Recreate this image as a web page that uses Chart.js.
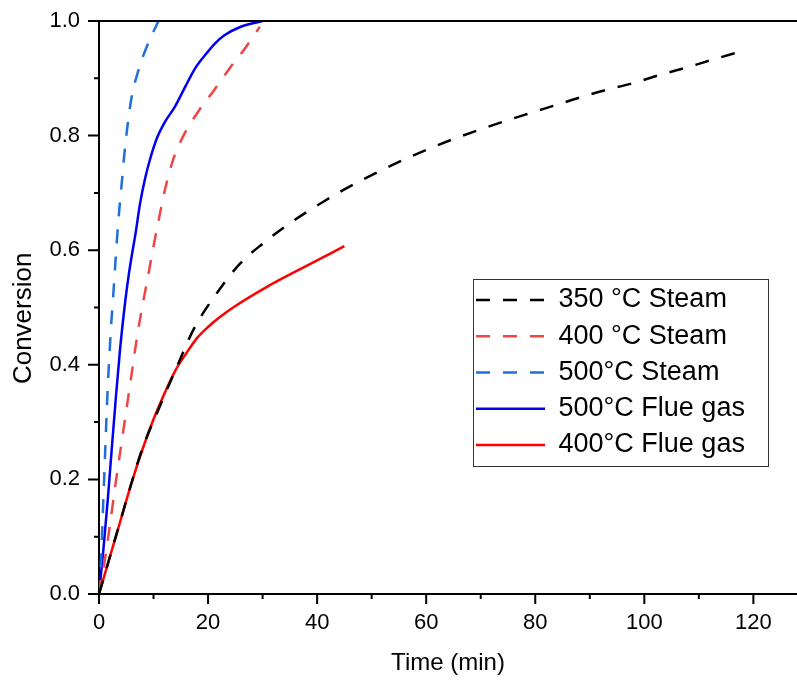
<!DOCTYPE html>
<html><head><meta charset="utf-8">
<script src="https://cdn.jsdelivr.net/npm/chart.js@4"></script>
<style>html,body{margin:0;padding:0;background:#fff;}#wrap{width:797px;height:683px;}</style>
</head><body><div id="wrap"><canvas id="c" width="797" height="683"></canvas></div>
<script>
// ---------- data ----------
const seriesLabels = ["350 °C Steam", "400 °C Steam", "500°C Steam", "500°C Flue gas", "400°C Flue gas"];

const steam350Time = [0, 2, 4, 6, 8, 10.6, 14.3, 17.3, 21.6, 25.9, 30.1, 35, 41.2, 45, 50, 55, 60, 65, 70, 75, 80, 85, 91.9, 97.7, 102.9, 107.8, 112.7, 118];
const steam350Conv = [0, 0.065, 0.13, 0.195, 0.255, 0.315, 0.397, 0.461, 0.525, 0.577, 0.612, 0.647, 0.685, 0.706, 0.731, 0.754, 0.775, 0.794, 0.811, 0.827, 0.842, 0.857, 0.877, 0.891, 0.906, 0.919, 0.933, 0.948];

const steam400Time = [0, 1, 2, 3, 4, 5, 6, 7, 8, 9, 10, 11.1, 12.1, 13.6, 15.5, 18.2, 21, 24, 26.6, 29.5];
const steam400Conv = [0, 0.055, 0.12, 0.19, 0.255, 0.32, 0.385, 0.45, 0.505, 0.555, 0.607, 0.66, 0.706, 0.758, 0.8, 0.842, 0.878, 0.918, 0.95, 0.99];

const steam500Time = [0, 0.4, 0.6, 0.8, 1.0, 1.2, 1.4, 1.6, 1.9, 2.2, 2.6, 2.95, 3.3, 3.7, 4.15, 4.65, 5.2, 6.0, 7.2, 8.75, 10.9];
const steam500Conv = [0, 0.065, 0.115, 0.165, 0.215, 0.265, 0.315, 0.36, 0.415, 0.465, 0.52, 0.57, 0.62, 0.668, 0.715, 0.768, 0.815, 0.868, 0.913, 0.955, 1.0];

const flue500Time = [0, 0.8, 1.6, 2.32, 3.06, 3.85, 4.8, 5.5, 6.0, 6.75, 7.5, 8.45, 9.4, 10.6, 12.1, 13.9, 15.8, 17.6, 19.5, 21.3, 23, 26, 30];
const flue500Conv = [0, 0.077, 0.164, 0.251, 0.339, 0.426, 0.51, 0.56, 0.59, 0.632, 0.68, 0.725, 0.76, 0.795, 0.824, 0.85, 0.885, 0.917, 0.941, 0.961, 0.975, 0.99, 1.0];

const flue400Time = [0, 2, 4, 6, 8, 10, 12, 14, 16, 18, 20, 22, 24.6, 30.8, 36.9, 45];
const flue400Conv = [0, 0.065, 0.13, 0.195, 0.253, 0.305, 0.35, 0.39, 0.42, 0.447, 0.466, 0.482, 0.5, 0.536, 0.567, 0.607];

const xMajorTicks = [0, 20, 40, 60, 80, 100, 120];
const xMinorTicks = [10, 30, 50, 70, 90, 110];
const yMajorTicks = [0, 0.2, 0.4, 0.6, 0.8, 1.0];
const yMinorTicks = [0.1, 0.3, 0.5, 0.7, 0.9];
const xAxisTitle = "Time (min)";
const yAxisTitle = "Conversion   ";

// ---------- styling ----------
const FONT = "'Liberation Sans', Arial, Helvetica, sans-serif";
Chart.defaults.font.family = FONT;
Chart.defaults.color = '#000';

function pts(xs, ys) { return xs.map((x, i) => ({x: x, y: ys[i]})); }
const DASH = [14, 13];
function ds(label, xs, ys, color, dash) {
  return {
    label: label, data: pts(xs, ys), borderColor: color, backgroundColor: color,
    borderWidth: 2.5, borderDash: dash, borderCapStyle: 'butt', pointRadius: 0,
    pointHoverRadius: 0, cubicInterpolationMode: 'monotone', fill: false
  };
}

const datasets = [
  ds(seriesLabels[0], steam350Time, steam350Conv, '#000000', DASH),
  ds(seriesLabels[1], steam400Time, steam400Conv, '#f04545', DASH),
  ds(seriesLabels[2], steam500Time, steam500Conv, '#1f6fdc', DASH),
  ds(seriesLabels[3], flue500Time, flue500Conv, '#0000f0', []),
  ds(seriesLabels[4], flue400Time, flue400Conv, '#ff0000', [])
];

const LEG_FONT = 27, LEG_PAD = 9.25;
const decor = {
  id: 'decor',
  beforeDraw(chart) {
    const lg = chart.legend;
    if (lg) {
      lg.left = 476 - LEG_PAD; lg.top = 300 - LEG_FONT / 2 - LEG_PAD;
      lg.right = lg.left + 330; lg.bottom = lg.top + 230;
      lg.width = 330; lg.height = 230;
    }
  },
  afterDraw(chart) {
    const ctx = chart.ctx, ca = chart.chartArea;
    const xs = chart.scales.x, ys = chart.scales.y;
    ctx.save();
    ctx.strokeStyle = '#000';
    ctx.lineWidth = 2;
    ctx.lineCap = 'butt';
    ctx.beginPath();
    xMajorTicks.forEach(v => { const p = xs.getPixelForValue(v); ctx.moveTo(p, ca.bottom); ctx.lineTo(p, ca.bottom + 10); });
    xMinorTicks.forEach(v => { const p = xs.getPixelForValue(v); ctx.moveTo(p, ca.bottom); ctx.lineTo(p, ca.bottom + 5); });
    yMajorTicks.forEach(v => { const p = ys.getPixelForValue(v); ctx.moveTo(ca.left - 11, p); ctx.lineTo(ca.left, p); });
    yMinorTicks.forEach(v => { const p = ys.getPixelForValue(v); ctx.moveTo(ca.left - 5, p); ctx.lineTo(ca.left, p); });
    // top frame line
    const pt = ys.getPixelForValue(1.0);
    ctx.moveTo(ca.left, pt); ctx.lineTo(ca.right, pt);
    ctx.stroke();
    // legend frame
    ctx.lineWidth = 1;
    ctx.strokeStyle = '#333';
    ctx.strokeRect(473.5, 279.5, 295, 187);
    ctx.restore();
  }
};

new Chart(document.getElementById('c'), {
  type: 'line',
  data: {datasets: datasets},
  options: {
    responsive: false, animation: false, devicePixelRatio: 1,
    layout: {padding: {left: 0, right: 0, top: 21, bottom: 0}},
    plugins: {
      tooltip: {enabled: false},
      legend: {
        display: true, position: 'chartArea', align: 'start', fullSize: false,
        labels: {
          usePointStyle: true, pointStyleWidth: 69, padding: LEG_PAD,
          font: {family: FONT, size: LEG_FONT}, color: '#000',
          generateLabels(chart) {
            return chart.data.datasets.map((d, i) => ({
              text: d.label, fillStyle: 'rgba(0,0,0,0)', strokeStyle: d.borderColor,
              lineWidth: d.borderWidth, lineDash: d.borderDash, lineCap: 'butt',
              pointStyle: 'line', hidden: false, datasetIndex: i, fontColor: '#000'
            }));
          }
        }
      }
    },
    scales: {
      x: {
        type: 'linear', min: 0, max: 128,
        afterBuildTicks: s => { s.ticks = xMajorTicks.map(v => ({value: v})); },
        afterFit: s => { s.height = 89; s.paddingLeft = 0; s.paddingRight = 0; },
        ticks: {autoSkip: false, maxRotation: 0, padding: 16, font: {family: FONT, size: 22}, color: '#000', callback: v => String(v)},
        grid: {display: false, drawTicks: false},
        border: {display: true, color: '#000', width: 2},
        title: {display: true, text: xAxisTitle, font: {family: FONT, size: 24}, color: '#000', padding: {top: 0, bottom: 5}}
      },
      y: {
        type: 'linear', min: 0, max: 1,
        afterBuildTicks: s => { s.ticks = yMajorTicks.map(v => ({value: v})); },
        afterFit: s => { s.width = 99; s.paddingTop = 0; s.paddingBottom = 0; },
        ticks: {autoSkip: false, padding: 19, font: {family: FONT, size: 22}, color: '#000', callback: v => Number(v).toFixed(1)},
        grid: {display: false, drawTicks: false},
        border: {display: true, color: '#000', width: 2},
        title: {display: true, text: yAxisTitle, font: {family: FONT, size: 26}, color: '#000', padding: {top: 8, bottom: 0}}
      }
    }
  },
  plugins: [decor]
});
</script></body></html>
